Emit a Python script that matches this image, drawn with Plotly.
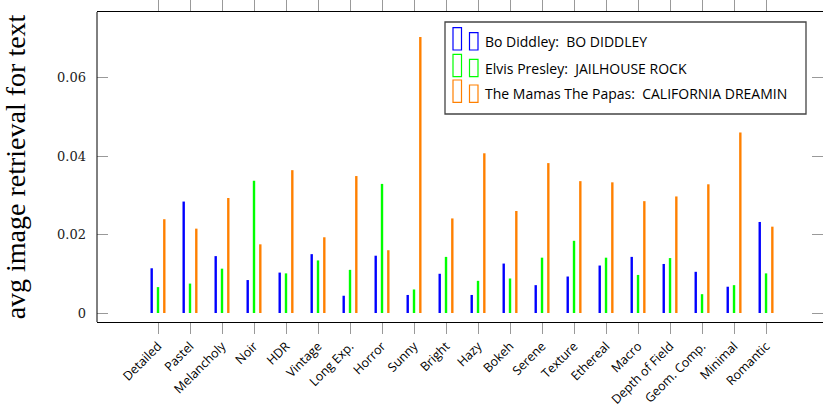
import plotly.graph_objects as go

categories = ["Detailed", "Pastel", "Melancholy", "Noir", "HDR", "Vintage", "Long Exp.",
              "Horror", "Sunny", "Bright", "Hazy", "Bokeh", "Serene", "Texture", "Ethereal",
              "Macro", "Depth of Field", "Geom. Comp.", "Minimal", "Romantic"]

bo_diddley = [0.0114, 0.0284, 0.0145, 0.0084, 0.0103, 0.0150, 0.0044, 0.0146, 0.0046, 0.0100,
              0.0046, 0.0126, 0.0071, 0.0093, 0.0121, 0.0143, 0.0125, 0.0105, 0.0067, 0.0232]
elvis = [0.0066, 0.0075, 0.0113, 0.0337, 0.0101, 0.0134, 0.0110, 0.0329, 0.0060, 0.0143,
         0.0082, 0.0088, 0.0141, 0.0184, 0.0141, 0.0097, 0.0140, 0.0048, 0.0071, 0.0101]
mamas = [0.0239, 0.0215, 0.0293, 0.0175, 0.0364, 0.0193, 0.0349, 0.0160, 0.0703, 0.0241,
         0.0407, 0.0260, 0.0382, 0.0336, 0.0333, 0.0285, 0.0297, 0.0328, 0.0460, 0.0220]

series_names = ["Bo Diddley:  BO DIDDLEY", "Elvis Presley:  JAILHOUSE ROCK",
                "The Mamas The Papas:  CALIFORNIA DREAMIN"]
series_colors = ["#0000ff", "#00ff00", "#ff8000"]
y_ticks = [0, 0.02, 0.04, 0.06]
y_ticklabels = ["0", "0.02", "0.04", "0.06"]

# layout geometry (pixels)
W, H = 823, 409
L, T, B = 97, 12, 87
pw = W - L
ph = H - T - B

def px(x):
    return (x - L) / pw

def py(y):
    return (H - B - y) / ph

bw = 0.075
step = 0.197
fig = go.Figure()
for i, (vals, name, col) in enumerate(zip([bo_diddley, elvis, mamas], series_names, series_colors)):
    fig.add_trace(go.Bar(
        x=categories, y=vals, name=name, width=bw, offset=(i - 1) * step - bw / 2,
        marker=dict(color=col, line=dict(width=0)), showlegend=False,
    ))

shapes = []
annotations = []
# left border of plot area
shapes.append(dict(type="line", xref="paper", yref="paper", x0=0, x1=0, y0=0, y1=1,
                   line=dict(color="black", width=1)))
# custom legend (pgfplots ybar-style)
shapes.append(dict(type="rect", xref="paper", yref="paper", x0=px(445), x1=px(806),
                   y0=py(114), y1=py(22), line=dict(color="#444444", width=1.3),
                   fillcolor="white", layer="above"))
row_tops = [27.7, 54.3, 80.0]
for k, (name, col) in enumerate(zip(series_names, series_colors)):
    top = row_tops[k]
    bot = top + 22.3
    shapes.append(dict(type="rect", xref="paper", yref="paper", x0=px(453), x1=px(461.5),
                       y0=py(bot), y1=py(top), line=dict(color=col, width=1.2), layer="above"))
    shapes.append(dict(type="rect", xref="paper", yref="paper", x0=px(469.5), x1=px(478),
                       y0=py(bot), y1=py(top + 5), line=dict(color=col, width=1.2), layer="above"))
    annotations.append(dict(xref="paper", yref="paper", x=px(483), y=py(bot - 8.5),
                            text=name, showarrow=False, xanchor="left", yanchor="middle",
                            font=dict(family="Open Sans", size=14, color="black")))

fig.update_layout(
    width=W, height=H,
    margin=dict(l=L, r=0, t=T, b=B, pad=0),
    plot_bgcolor="white", paper_bgcolor="white",
    barmode="overlay",
    showlegend=False,
    shapes=shapes,
    annotations=annotations,
    xaxis=dict(
        automargin=False,
        range=[-1.906, 20.78],
        tickmode="array", tickvals=categories, ticktext=categories,
        tickangle=-45, ticks="outside", ticklen=11, tickcolor="#999999", tickwidth=1,
        showline=True, linecolor="black", linewidth=1, mirror="allticks",
        showgrid=False, zeroline=False,
        tickfont=dict(family="Open Sans", size=12.5, color="black"),
    ),
    yaxis=dict(
        automargin=False,
        range=[-0.00229, 0.0767],
        tickmode="array", tickvals=y_ticks, ticktext=y_ticklabels,
        ticks="inside", ticklen=11, tickcolor="#999999", tickwidth=1,
        showline=False, mirror="allticks",
        showgrid=False, zeroline=False,
        ticklabelstandoff=10,
        tickfont=dict(family="DejaVu Serif", size=13, color="#222222"),
        title=dict(text="avg image retrieval for text", standoff=25,
                   font=dict(family="Liberation Serif", size=28, color="black")),
    ),
)

fig.write_html(
    "out.html",
    config={"displayModeBar": False},
    post_script="document.body.style.margin='0';document.body.style.overflow='hidden';",
)
